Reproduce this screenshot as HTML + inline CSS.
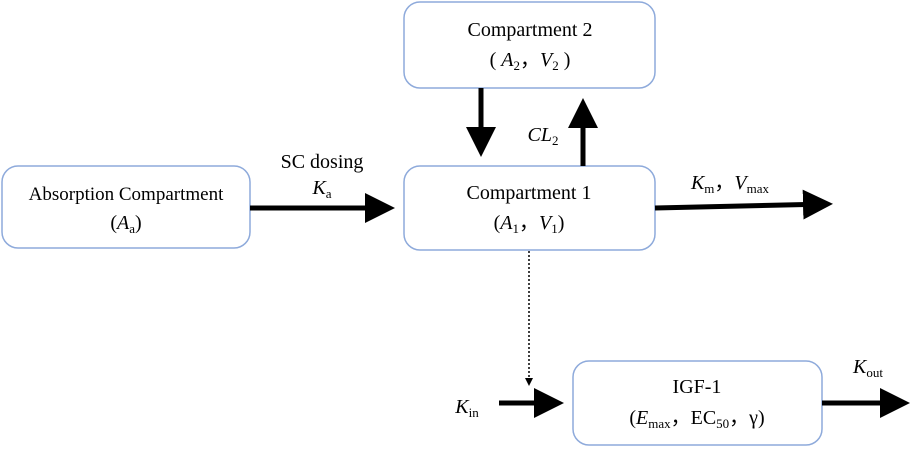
<!DOCTYPE html>
<html><head><meta charset="utf-8"><style>
html,body{margin:0;padding:0;background:#fff;}
svg{display:block;font-family:"Liberation Serif",serif;}
</style></head><body>
<svg width="920" height="449" viewBox="0 0 920 449" xmlns="http://www.w3.org/2000/svg">
<defs>
<marker id="ah" markerWidth="6" markerHeight="6" refX="5" refY="3" orient="auto" markerUnits="strokeWidth"><path d="M0,0 L6,3 L0,6 z" fill="#000"/></marker>
</defs>
<g fill="#fff" stroke="#8eaadb" stroke-width="1.5">
<rect x="404" y="2" width="251" height="86" rx="16"/>
<rect x="404" y="166" width="251" height="84" rx="16"/>
<rect x="2" y="166" width="248" height="82" rx="16"/>
<rect x="573" y="361" width="249" height="84" rx="16"/>
</g>
<g stroke="#000" stroke-width="5" fill="none">
<line x1="481" y1="88" x2="481" y2="152" marker-end="url(#ah)"/>
<line x1="583" y1="166" x2="583" y2="103" marker-end="url(#ah)"/>
<line x1="250" y1="208" x2="390" y2="208" marker-end="url(#ah)"/>
<line x1="655" y1="208" x2="828" y2="204" marker-end="url(#ah)"/>
<line x1="499" y1="403" x2="559" y2="403" marker-end="url(#ah)"/>
<line x1="822" y1="403" x2="905" y2="403" marker-end="url(#ah)"/>
</g>
<line x1="529" y1="251" x2="529" y2="378" stroke="#000" stroke-width="1.5" stroke-dasharray="2,2"/>
<path d="M525,378 L533,378 L529,386 z" fill="#000"/>
<g font-size="20" fill="#000" text-anchor="middle">
<text x="530" y="36">Compartment 2</text>
<text x="530" y="66">( <tspan font-style="italic">A</tspan><tspan font-size="13" dy="4">2</tspan><tspan dy="-4">，</tspan><tspan font-style="italic">V</tspan><tspan font-size="13" dy="4">2</tspan><tspan dy="-4"> )</tspan></text>
<text x="529" y="199">Compartment 1</text>
<text x="529" y="229">(<tspan font-style="italic">A</tspan><tspan font-size="13" dy="4">1</tspan><tspan dy="-4">，</tspan><tspan font-style="italic">V</tspan><tspan font-size="13" dy="4">1</tspan><tspan dy="-4">)</tspan></text>
<text x="126" y="200" font-size="19">Absorption Compartment</text>
<text x="126" y="229">(<tspan font-style="italic">A</tspan><tspan font-size="13" dy="4">a</tspan><tspan dy="-4">)</tspan></text>
<text x="697" y="393">IGF-1</text>
<text x="697" y="424">(<tspan font-style="italic">E</tspan><tspan font-size="13" dy="4">max</tspan><tspan dy="-4">，EC</tspan><tspan font-size="13" dy="4">50</tspan><tspan dy="-4">，γ)</tspan></text>
<text x="322" y="168">SC dosing</text>
<text x="322" y="194"><tspan font-style="italic">K</tspan><tspan font-size="13" dy="4">a</tspan></text>
<text x="543" y="141"><tspan font-style="italic">CL</tspan><tspan font-size="13" dy="4">2</tspan></text>
<text x="730" y="189"><tspan font-style="italic">K</tspan><tspan font-size="13" dy="4">m</tspan><tspan dy="-4">，</tspan><tspan font-style="italic">V</tspan><tspan font-size="13" dy="4">max</tspan></text>
<text x="467" y="413"><tspan font-style="italic">K</tspan><tspan font-size="13" dy="4">in</tspan></text>
<text x="868" y="373"><tspan font-style="italic">K</tspan><tspan font-size="13" dy="4">out</tspan></text>
</g>
</svg>
</body></html>
